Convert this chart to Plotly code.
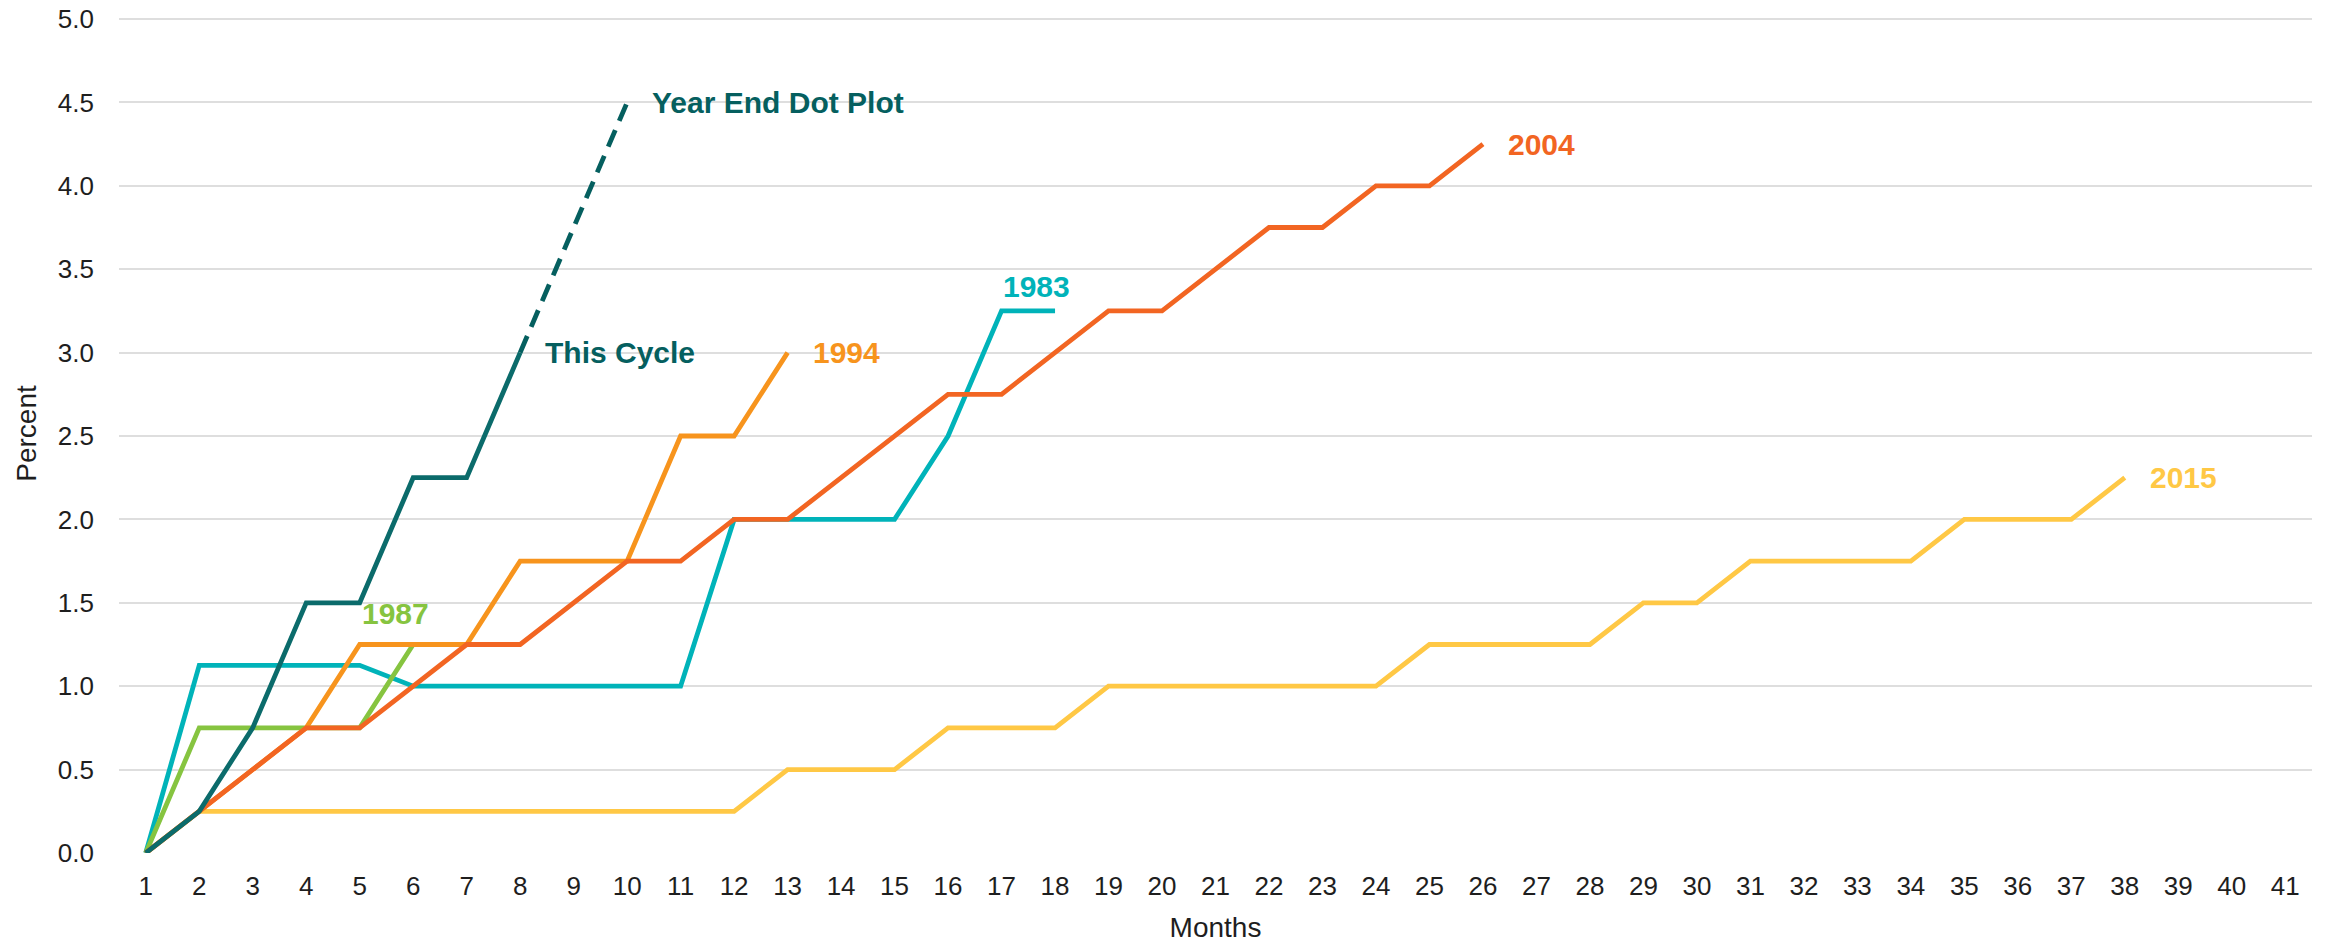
import plotly.graph_objects as go

# Cumulative change in the policy rate (percentage points) by month of each hiking cycle
months = list(range(1, 42))

this_cycle = [0.0, 0.25, 0.75, 1.5, 1.5, 2.25, 2.25, 3.0]
dot_plot_months = [8, 10]
dot_plot_values = [3.0, 4.5]

cycle_1983 = [0.0, 1.125, 1.125, 1.125, 1.125, 1.0, 1.0, 1.0, 1.0, 1.0, 1.0,
              2.0, 2.0, 2.0, 2.0, 2.5, 3.25, 3.25]
cycle_1987 = [0.0, 0.75, 0.75, 0.75, 0.75, 1.25]
cycle_1994 = [0.0, 0.25, 0.5, 0.75, 1.25, 1.25, 1.25, 1.75, 1.75, 1.75, 2.5,
              2.5, 3.0]
cycle_2004 = [0.0, 0.25, 0.5, 0.75, 0.75, 1.0, 1.25, 1.25, 1.5, 1.75, 1.75,
              2.0, 2.0, 2.25, 2.5, 2.75, 2.75, 3.0, 3.25, 3.25, 3.5, 3.75,
              3.75, 4.0, 4.0, 4.25]
cycle_2015 = [0.0, 0.25, 0.25, 0.25, 0.25, 0.25, 0.25, 0.25, 0.25, 0.25, 0.25,
              0.25, 0.5, 0.5, 0.5, 0.75, 0.75, 0.75, 1.0, 1.0, 1.0, 1.0, 1.0,
              1.0, 1.25, 1.25, 1.25, 1.25, 1.5, 1.5, 1.75, 1.75, 1.75, 1.75,
              2.0, 2.0, 2.0, 2.25]

y_ticks = [0.0, 0.5, 1.0, 1.5, 2.0, 2.5, 3.0, 3.5, 4.0, 4.5, 5.0]

TEAL_DARK = "#0b6b6b"
TEAL_TEXT = "#055f5f"
CYAN = "#00b3b9"
GREEN = "#86c440"
ORANGE = "#f7941d"
RED_ORANGE = "#f26522"
YELLOW = "#ffc845"

LW = 4.8

fig = go.Figure()

series = [
    (cycle_2015, YELLOW),
    (cycle_1983, CYAN),
    (cycle_1987, GREEN),
    (cycle_1994, ORANGE),
    (cycle_2004, RED_ORANGE),
]
for vals, color in series:
    fig.add_trace(go.Scatter(
        x=months[:len(vals)], y=vals, mode="lines",
        line=dict(color=color, width=LW), hoverinfo="skip", showlegend=False,
    ))

fig.add_trace(go.Scatter(
    x=dot_plot_months, y=dot_plot_values, mode="lines",
    line=dict(color=TEAL_TEXT, width=LW, dash="18px,10px"),
    hoverinfo="skip", showlegend=False,
))
fig.add_trace(go.Scatter(
    x=months[:len(this_cycle)], y=this_cycle, mode="lines",
    line=dict(color=TEAL_DARK, width=LW), hoverinfo="skip", showlegend=False,
))

label_font = "Liberation Sans, Arial, sans-serif"


def end_label(text, x, y, color, xshift=23, yshift=0):
    fig.add_annotation(
        x=x, y=y, text=f"<b>{text}</b>", showarrow=False,
        xanchor="left", yanchor="middle", xshift=xshift, yshift=yshift,
        font=dict(family=label_font, size=30, color=color),
    )


end_label("Year End Dot Plot", dot_plot_months[-1], dot_plot_values[-1], TEAL_TEXT)
end_label("This Cycle", len(this_cycle), this_cycle[-1], TEAL_TEXT)
end_label("1994", len(cycle_1994), cycle_1994[-1], ORANGE)
end_label("2004", len(cycle_2004), cycle_2004[-1], RED_ORANGE)
end_label("2015", len(cycle_2015), cycle_2015[-1], YELLOW)
end_label("1983", 17, cycle_1983[16], CYAN, xshift=-1, yshift=24)
end_label("1987", 5, cycle_1987[-1], GREEN, xshift=0, yshift=31)

tick_font = dict(family=label_font, size=26, color="#1e1e1e")
title_font = dict(family=label_font, size=28, color="#1e1e1e")

fig.update_layout(
    width=2328, height=946,
    margin=dict(l=119, r=16, t=14, b=93),
    paper_bgcolor="white", plot_bgcolor="white",
    xaxis=dict(
        range=[0.5, 41.5], tickmode="array", tickvals=months,
        ticktext=[str(m) for m in months], showgrid=False, zeroline=False,
        showline=False, ticks="", tickfont=tick_font, ticklabelstandoff=15,
        automargin=False,
        title=dict(text="Months", font=title_font, standoff=17),
    ),
    yaxis=dict(
        range=[0, 5.03], tickmode="array", tickvals=y_ticks,
        ticktext=[f"{v:.1f}" for v in y_ticks], showgrid=True,
        gridcolor="#dedede", gridwidth=1.6, zeroline=False, showline=False,
        ticks="", tickfont=tick_font, ticklabelstandoff=24,
        automargin=False,
        title=dict(text="Percent", font=title_font, standoff=13),
    ),
)

fig.write_html("out.html")
